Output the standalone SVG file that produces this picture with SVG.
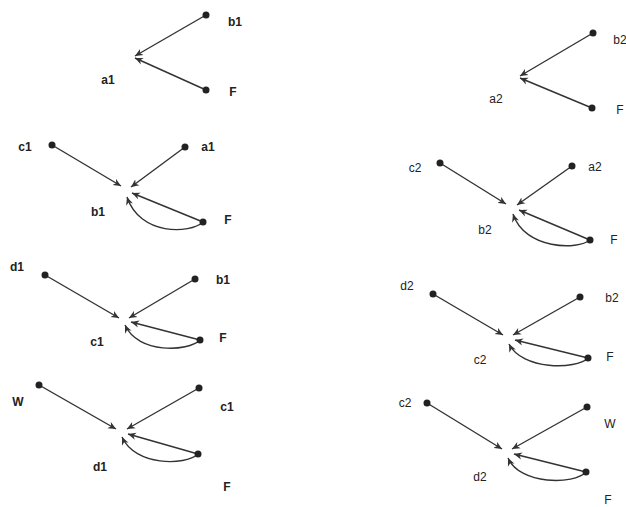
<svg xmlns="http://www.w3.org/2000/svg" width="626" height="507" viewBox="0 0 626 507">
<style>
.e{stroke:#333;stroke-width:1.4;fill:none;marker-end:url(#ah)}
.d{fill:#222}
.t{font-family:"Liberation Sans",Arial,sans-serif;font-size:12px;font-weight:bold;fill:#222;text-anchor:middle;dominant-baseline:central}
.r{font-family:"Liberation Sans",Arial,sans-serif;font-size:12px;fill:#222;text-anchor:middle;dominant-baseline:central}
</style>
<defs>
<marker id="ah" viewBox="0 0 10 10" refX="10" refY="5" markerWidth="8" markerHeight="8" orient="auto" markerUnits="userSpaceOnUse">
<path d="M0,0.5 L10,5 L0,9.5 L3,5 z" fill="#333"/>
</marker>
</defs>
<rect width="626" height="507" fill="#fff"/>
<g id="connectors">
<path class="e" d="M206,15 L135,56"/>
<path class="e" d="M206,90 L135,58"/>
<path class="e" d="M52,145 L121,186"/>
<path class="e" d="M185,147 L131,187"/>
<path class="e" d="M203,222 L132,193"/>
<path class="e" d="M203,222 C190,234 140,236 127,197"/>
<path class="e" d="M45,275 L119,318"/>
<path class="e" d="M195,279 L129,318"/>
<path class="e" d="M200,340 L131,322"/>
<path class="e" d="M200,340 C188,352 138,354 125,325"/>
<path class="e" d="M39,385 L116,429"/>
<path class="e" d="M199,388 L127,429"/>
<path class="e" d="M198,454 L128,434"/>
<path class="e" d="M198,454 C185,466 135,466 122,437"/>
<path class="e" d="M593,33 L520,76"/>
<path class="e" d="M592,108 L520,78"/>
<path class="e" d="M440,163 L506,204"/>
<path class="e" d="M572,166 L517,205"/>
<path class="e" d="M590,240 L519,210"/>
<path class="e" d="M590,240 C578,250 525,250 513,214"/>
<path class="e" d="M433,294 L503,335"/>
<path class="e" d="M580,297 L513,335"/>
<path class="e" d="M588,358 L515,340"/>
<path class="e" d="M588,358 C576,370 522,370 509,344"/>
<path class="e" d="M427,403 L502,449"/>
<path class="e" d="M587,407 L512,449"/>
<path class="e" d="M586,472 L514,454"/>
<path class="e" d="M586,472 C574,485 520,485 508,458"/>
</g>
<g id="L1-a1"><text class="t" x="108" y="80">a1</text></g>
<g id="L1-b1"><circle class="d" cx="206" cy="15" r="3.5"/><text class="t" x="235" y="22">b1</text></g>
<g id="L1-F"><circle class="d" cx="206" cy="90" r="3.5"/><text class="t" x="233" y="92">F</text></g>
<g id="L2-b1"><text class="t" x="98" y="212">b1</text></g>
<g id="L2-c1"><circle class="d" cx="52" cy="145" r="3.5"/><text class="t" x="25" y="147">c1</text></g>
<g id="L2-a1"><circle class="d" cx="185" cy="147" r="3.5"/><text class="t" x="208" y="147">a1</text></g>
<g id="L2-F"><circle class="d" cx="203" cy="222" r="3.5"/><text class="t" x="228" y="220">F</text></g>
<g id="L3-c1"><text class="t" x="97" y="342">c1</text></g>
<g id="L3-d1"><circle class="d" cx="45" cy="275" r="3.5"/><text class="t" x="17" y="267">d1</text></g>
<g id="L3-b1"><circle class="d" cx="195" cy="279" r="3.5"/><text class="t" x="223" y="280">b1</text></g>
<g id="L3-F"><circle class="d" cx="200" cy="340" r="3.5"/><text class="t" x="223" y="338">F</text></g>
<g id="L4-d1"><text class="t" x="100" y="467">d1</text></g>
<g id="L4-W"><circle class="d" cx="39" cy="385" r="3.5"/><text class="t" x="18" y="402">W</text></g>
<g id="L4-c1"><circle class="d" cx="199" cy="388" r="3.5"/><text class="t" x="227" y="407">c1</text></g>
<g id="L4-F"><circle class="d" cx="198" cy="454" r="3.5"/><text class="t" x="227" y="487">F</text></g>
<g id="R1-a2"><text class="r" x="496" y="99">a2</text></g>
<g id="R1-b2"><circle class="d" cx="593" cy="33" r="3.5"/><text class="r" x="620" y="40">b2</text></g>
<g id="R1-F"><circle class="d" cx="592" cy="108" r="3.5"/><text class="r" x="620" y="110">F</text></g>
<g id="R2-b2"><text class="r" x="485" y="230">b2</text></g>
<g id="R2-c2"><circle class="d" cx="440" cy="163" r="3.5"/><text class="r" x="415" y="168">c2</text></g>
<g id="R2-a2"><circle class="d" cx="572" cy="166" r="3.5"/><text class="r" x="595" y="167">a2</text></g>
<g id="R2-F"><circle class="d" cx="590" cy="240" r="3.5"/><text class="r" x="614" y="240">F</text></g>
<g id="R3-c2"><text class="r" x="480" y="360">c2</text></g>
<g id="R3-d2"><circle class="d" cx="433" cy="294" r="3.5"/><text class="r" x="407" y="286">d2</text></g>
<g id="R3-b2"><circle class="d" cx="580" cy="297" r="3.5"/><text class="r" x="612" y="298">b2</text></g>
<g id="R3-F"><circle class="d" cx="588" cy="358" r="3.5"/><text class="r" x="610" y="357">F</text></g>
<g id="R4-d2"><text class="r" x="480" y="477">d2</text></g>
<g id="R4-c2"><circle class="d" cx="427" cy="403" r="3.5"/><text class="r" x="405" y="403">c2</text></g>
<g id="R4-W"><circle class="d" cx="587" cy="407" r="3.5"/><text class="r" x="610" y="424">W</text></g>
<g id="R4-F"><circle class="d" cx="586" cy="472" r="3.5"/><text class="r" x="608" y="500">F</text></g>
</svg>
